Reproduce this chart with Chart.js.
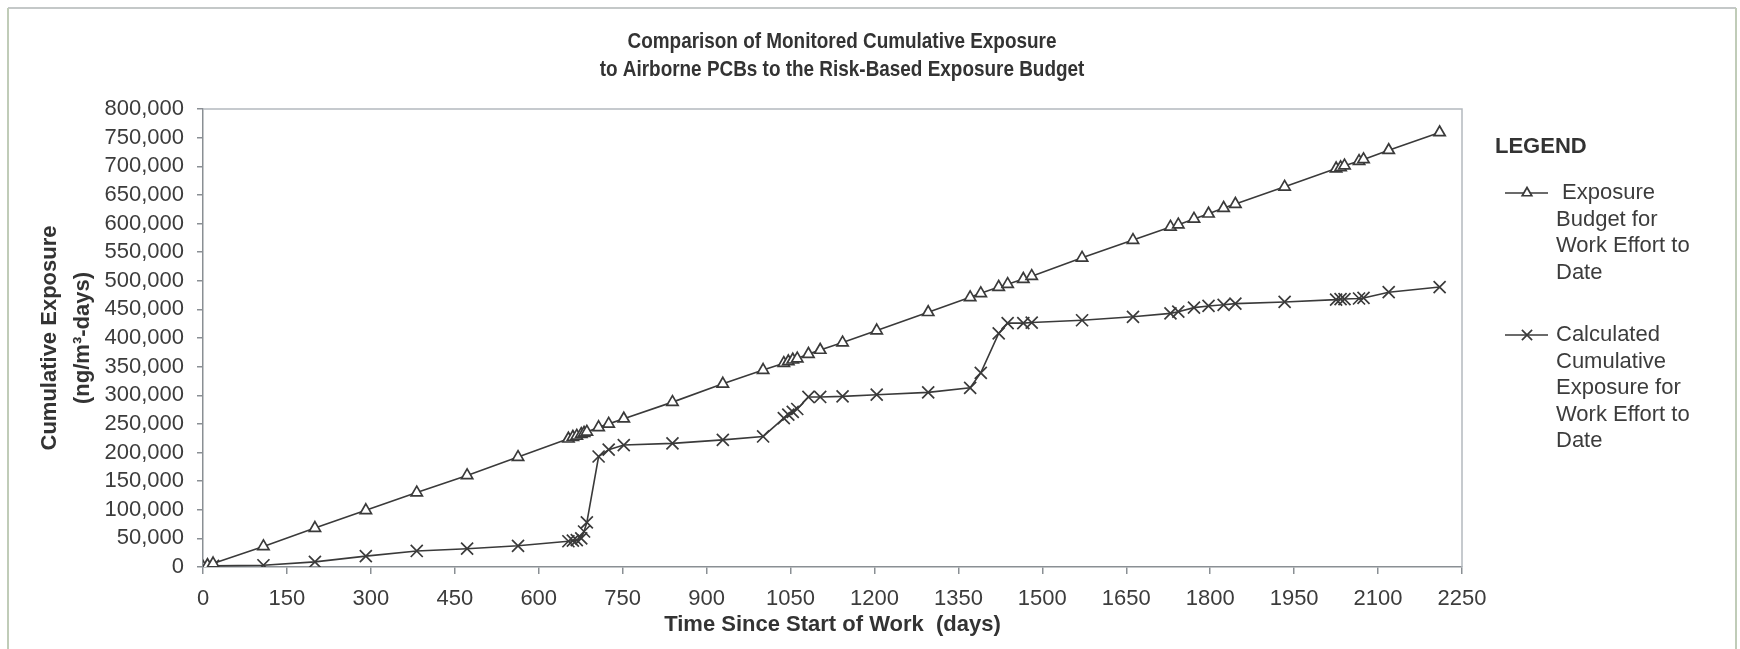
<!DOCTYPE html>
<html>
<head>
<meta charset="utf-8">
<script src="https://cdn.jsdelivr.net/npm/chart.js@4.4.1/dist/chart.umd.min.js"></script>
<style>
  html, body { margin: 0; padding: 0; background: #ffffff; }
  #wrap { width: 1740px; height: 649px; position: relative; }
</style>
</head>
<body>
<div id="wrap"><canvas id="c" width="1740" height="649"></canvas></div>
<script>
// Days since start of work for each monitoring record
const days = [0, 8, 18, 108, 200, 291, 382, 472, 563, 653, 661, 668, 676, 681, 686,
  707, 725, 752, 839, 929, 1001, 1038, 1046, 1054, 1062, 1082, 1103, 1143, 1204, 1296,
  1371, 1390, 1422, 1438, 1466, 1481, 1571, 1662, 1729, 1743, 1771, 1797, 1824, 1845,
  1933, 2025, 2033, 2040, 2066, 2074, 2119, 2210];

// Exposure budget for work effort to date (ng/m3-days)
const budget = [0, 3000, 6000, 36000, 68000, 99000, 130000, 160000, 192000, 224000, 227000, 229000, 232000, 234000, 236000,
  244000, 250000, 259000, 288000, 320000, 344000, 356000, 359000, 362000, 364000, 372000, 379000, 392000, 413000, 445000,
  471000, 478000, 489000, 494000, 503000, 508000, 540000, 571000, 594000, 598000, 608000, 617000, 627000, 634000,
  664000, 696000, 698000, 701000, 709000, 712000, 728000, 759000];

// Calculated cumulative exposure for work effort to date (ng/m3-days)
const exposure = [0, 1000, 2000, 3000, 9000, 19000, 28000, 32000, 37000, 45000, 46000, 47000, 50000, 62000, 78000,
  193000, 205000, 213000, 216000, 222000, 228000, 260000, 266000, 271000, 276000, 297000, 297000, 298000, 301000, 305000,
  313000, 339000, 408000, 426000, 426000, 427000, 431000, 437000, 443000, 446000, 453000, 456000, 458000, 460000,
  463000, 467000, 468000, 468000, 469000, 470000, 480000, 489000];

// Axis ranges and tick spacing
const xTicks = { min: 0, max: 2250, step: 150 };
const yTicks = { min: 0, max: 800000, step: 50000 };

// Text
const chartTitle = ['Comparison of Monitored Cumulative Exposure', 'to Airborne PCBs to the Risk-Based Exposure Budget'];
const xTitle = 'Time Since Start of Work  (days)';
const yTitle = ['Cumulative Exposure', '(ng/m\u00B3-days)'];
const legendHeading = 'LEGEND';
const budgetLabel = [' Exposure', 'Budget for', 'Work Effort to', 'Date'];
const exposureLabel = ['Calculated', 'Cumulative', 'Exposure for', 'Work Effort to', 'Date'];

const FONT = "'Liberation Sans', Arial, sans-serif";
const INK = '#3a3a3a';
const TEXT = '#3c3c3c';

// White page, outer frame and plot-area outline
const framePlugin = {
  id: 'frame',
  beforeDraw(chart) {
    const ctx = chart.ctx;
    ctx.save();
    ctx.fillStyle = '#ffffff';
    ctx.fillRect(0, 0, chart.width, chart.height);
    ctx.lineWidth = 2;
    ctx.strokeStyle = '#c4c8c8';
    ctx.beginPath();
    ctx.moveTo(8, 8);
    ctx.lineTo(chart.width - 4, 8);
    ctx.stroke();
    ctx.strokeStyle = '#c0ccb8';
    ctx.beginPath();
    ctx.moveTo(8, 8);
    ctx.lineTo(8, chart.height);
    ctx.moveTo(chart.width - 4, 8);
    ctx.lineTo(chart.width - 4, chart.height);
    ctx.stroke();
    ctx.restore();
  },
  beforeDatasetsDraw(chart) {
    const { ctx, chartArea: a } = chart;
    ctx.save();
    ctx.strokeStyle = '#b4b9be';
    ctx.lineWidth = 1.5;
    ctx.beginPath();
    ctx.moveTo(a.left, a.top);
    ctx.lineTo(a.right, a.top);
    ctx.lineTo(a.right, a.bottom);
    ctx.stroke();
    ctx.restore();
  }
};

// Two-line narrow bold heading centred over the chart
const headingPlugin = {
  id: 'heading',
  afterDraw(chart) {
    const ctx = chart.ctx;
    const cx = 842, squeeze = 0.86;
    ctx.save();
    ctx.fillStyle = '#333333';
    ctx.font = "bold 22px " + FONT;
    ctx.textAlign = 'center';
    ctx.textBaseline = 'middle';
    ctx.translate(cx, 0);
    ctx.scale(squeeze, 1);
    chartTitle.forEach((line, i) => ctx.fillText(line, 0, 42 + i * 28));
    ctx.restore();
  }
};

// Side legend with wrapped labels, markers taken from the dataset styles
const sideLegendPlugin = {
  id: 'sideLegend',
  afterDraw(chart) {
    const ctx = chart.ctx;
    const x0 = chart.chartArea.right + 33;
    ctx.save();
    ctx.fillStyle = '#333333';
    ctx.font = "bold 22px " + FONT;
    ctx.textBaseline = 'middle';
    ctx.textAlign = 'left';
    ctx.fillText(legendHeading, x0, 147);

    const items = [
      { ds: chart.data.datasets[0], lines: budgetLabel, y: 193 },
      { ds: chart.data.datasets[1], lines: exposureLabel, y: 335 }
    ];
    items.forEach(item => {
      const ds = item.ds;
      ctx.strokeStyle = ds.borderColor;
      ctx.lineWidth = ds.borderWidth;
      ctx.beginPath();
      ctx.moveTo(x0 + 10, item.y);
      ctx.lineTo(x0 + 53, item.y);
      ctx.stroke();
      ctx.fillStyle = ds.pointBackgroundColor;
      ctx.strokeStyle = ds.pointBorderColor;
      ctx.lineWidth = ds.pointBorderWidth;
      Chart.helpers.drawPoint(ctx, {
        pointStyle: ds.pointStyle,
        radius: ds.pointRadius * 0.85,
        borderWidth: ds.pointBorderWidth,
        rotation: 0
      }, x0 + 32, item.y);
      ctx.fillStyle = TEXT;
      ctx.font = "22px " + FONT;
      item.lines.forEach((t, i) => ctx.fillText(t, x0 + 61, item.y + i * 26.6));
    });
    ctx.restore();
  }
};

const toPoints = (xs, ys) => xs.map((x, i) => ({ x: x, y: ys[i] }));

new Chart(document.getElementById('c'), {
  type: 'line',
  data: {
    datasets: [
      {
        label: 'Exposure Budget for Work Effort to Date',
        data: toPoints(days, budget),
        borderColor: INK,
        borderWidth: 1.6,
        pointStyle: 'triangle',
        pointRadius: 6.5,
        pointBorderWidth: 1.7,
        pointBorderColor: INK,
        pointBackgroundColor: '#ffffff',
        tension: 0
      },
      {
        label: 'Calculated Cumulative Exposure for Work Effort to Date',
        data: toPoints(days, exposure),
        borderColor: INK,
        borderWidth: 1.6,
        pointStyle: 'crossRot',
        pointRadius: 8.5,
        pointBorderWidth: 1.7,
        pointBorderColor: INK,
        pointBackgroundColor: INK,
        tension: 0
      }
    ]
  },
  options: {
    responsive: false,
    animation: false,
    devicePixelRatio: 1,
    layout: { padding: { left: 0, right: 278, top: 109, bottom: 0 } },
    plugins: {
      legend: { display: false },
      title: { display: false },
      tooltip: { enabled: false }
    },
    scales: {
      x: {
        type: 'linear',
        min: xTicks.min,
        max: xTicks.max,
        afterFit(scale) { scale.height = 82; },
        afterBuildTicks(scale) {
          const t = [];
          for (let v = xTicks.min; v <= xTicks.max; v += xTicks.step) t.push({ value: v });
          scale.ticks = t;
        },
        ticks: {
          color: TEXT,
          font: { family: FONT, size: 22 },
          padding: 12,
          maxRotation: 0,
          autoSkip: false,
          callback: v => String(v)
        },
        grid: { drawOnChartArea: false, drawTicks: true, tickLength: 7, tickColor: '#8a8f94', lineWidth: 1.5 },
        border: { color: '#8a8f94', width: 1.5 },
        title: {
          display: true,
          text: xTitle,
          color: '#333333',
          font: { family: FONT, size: 22, weight: 'bold' },
          padding: { top: 0, bottom: 11 }
        }
      },
      y: {
        type: 'linear',
        min: yTicks.min,
        max: yTicks.max,
        afterFit(scale) { scale.width = 203; },
        afterBuildTicks(scale) {
          const t = [];
          for (let v = yTicks.min; v <= yTicks.max; v += yTicks.step) t.push({ value: v });
          scale.ticks = t;
        },
        ticks: {
          color: TEXT,
          font: { family: FONT, size: 22 },
          padding: 13,
          autoSkip: false,
          callback: v => v.toLocaleString('en-US')
        },
        grid: { drawOnChartArea: false, drawTicks: true, tickLength: 6, tickColor: '#8a8f94', lineWidth: 1.5 },
        border: { color: '#8a8f94', width: 1.5 },
        title: {
          display: true,
          text: yTitle,
          color: '#333333',
          font: { family: FONT, size: 22, weight: 'bold', lineHeight: 1.5 },
          padding: { top: 33, bottom: 0 }
        }
      }
    }
  },
  plugins: [framePlugin, headingPlugin, sideLegendPlugin]
});
</script>
</body>
</html>
